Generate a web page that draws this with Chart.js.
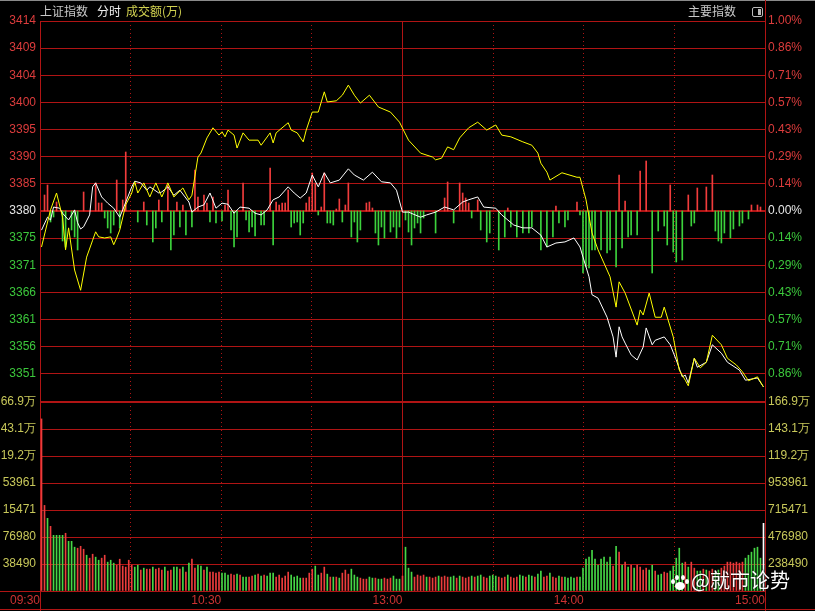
<!DOCTYPE html>
<html><head><meta charset="utf-8">
<script src="https://cdn.jsdelivr.net/npm/chart.js@4"></script>
<style>
html,body{margin:0;padding:0;background:#000;width:815px;height:611px;overflow:hidden;}
#wrap{position:relative;width:815px;height:611px;background:#000;}
canvas{position:absolute;left:0;}
.t{position:absolute;font:12px "Noto Sans CJK SC",sans-serif;white-space:nowrap;line-height:14px;}
.ln{position:absolute;background:rgb(176,20,20);}
</style></head><body>
<div id="wrap">
<div class="ln" style="left:0;top:0;width:815px;height:1px;background:#8a8a8a"></div>
<canvas id="cp" width="815" height="402" style="top:0"></canvas>
<canvas id="cv" width="815" height="220" style="top:391px"></canvas>
<div class="ln" style="left:765px;top:0;width:1px;height:21px"></div>
<div class="ln" style="left:0;top:591px;width:40px;height:1px"></div>
<div class="ln" style="left:40px;top:591px;width:1px;height:20px"></div>
<div class="ln" style="left:765px;top:591px;width:1px;height:20px"></div>
<div class="ln" style="left:0;top:609px;width:815px;height:1px"></div>
<div class="t" style="left:40px;top:4px;color:#c8c8c8">上证指数</div>
<div class="t" style="left:97px;top:4px;color:#f0f0f0">分时</div>
<div class="t" style="left:126px;top:4px;color:#d2d250">成交额(万)</div>
<div class="t" style="left:688px;top:4px;color:#c8c8c8">主要指数</div>
<div style="position:absolute;left:752px;top:7px;width:9px;height:8px;border:1px solid #bbb;border-radius:2px;"><div style="position:absolute;right:1px;top:1px;width:3px;height:6px;background:#bbb"></div></div>
<div style="position:absolute;left:671px;top:575px;width:18px;height:16px;">
 <div style="position:absolute;left:4px;top:7px;width:10px;height:8px;border-radius:50%;background:#fff"></div>
 <div style="position:absolute;left:0;top:4px;width:4px;height:5px;border-radius:50%;background:#fff"></div>
 <div style="position:absolute;left:4px;top:0;width:4px;height:5px;border-radius:50%;background:#fff"></div>
 <div style="position:absolute;left:10px;top:0;width:4px;height:5px;border-radius:50%;background:#fff"></div>
 <div style="position:absolute;left:14px;top:4px;width:4px;height:5px;border-radius:50%;background:#fff"></div>
</div>
<div style="position:absolute;left:691px;top:568px;font:20px 'Noto Sans CJK SC',sans-serif;color:#fff;line-height:24px;text-shadow:0 0 2px #000;white-space:nowrap">@就市论势</div>
</div>
<script>
// ---- data ----
const prevClose = 3380.3;
const priceMin = 3346.5, priceMax = 3414.1;
const pctMin = -1, pctMax = 1;
const volMax = 1669.43; // thousands
const priceTickLabels = ['3414','3409','3404','3400','3395','3390','3385','3380','3375','3371','3366','3361','3356','3351',''];
const pctTickLabels = ['1.00%','0.86%','0.71%','0.57%','0.43%','0.29%','0.14%','0.00%','0.14%','0.29%','0.43%','0.57%','0.71%','0.86%',''];
const volLeftLabels = ['66.9万','43.1万','19.2万','53961','15471','76980','38490',''];
const volRightLabels = ['166.9万','143.1万','119.2万','953961','715471','476980','238490',''];
const gridMinutes = [0,30,60,90,120,150,180,210,240];
const timeLabels = ['09:30','','10:30','','13:00','','14:00','','15:00'];
const solidMinutes = [120];

const yellowMin = [0,3,5,7,8,9,11,13,15,17,18,19,21,23,24,25,26,28,30,31,32,34,36,38,40,42,44,47,49,50,52,53,55,57,59,60,61,62,64,65,67,69,72,73,76,77,78,82,83,85,87,88,90,92,94,95,98,100,102,104,106,109,112,116,119,122,126,130,131,133,135,137,139,142,145,148,151,153,156,160,163,165,166,168,169,173,178,179,181,183,185,189,191,192,194,198,199,200,202,204,206,207,210,212,214,215,217,219,221,223,226,228,231,233,235,238,240];
const yellowVal = [3373.9,3380.5,3383.5,3379.2,3373.4,3377.3,3369.8,3366.2,3372.1,3375.1,3376.6,3375.7,3375.5,3375.7,3374.3,3375.5,3376.9,3381.4,3383.5,3385.5,3383.5,3385.3,3382.8,3385.3,3382.8,3385.3,3382.8,3384.4,3382.3,3383.1,3389.9,3390.6,3393.3,3395.1,3393.8,3394.4,3393.5,3394.7,3393.8,3391.5,3394.2,3392.9,3392.9,3392.0,3394.2,3392.4,3394.2,3396.0,3394.7,3394.2,3392.6,3394.7,3397.9,3397.9,3401.5,3399.7,3399.9,3400.9,3402.7,3400.9,3399.5,3400.9,3398.8,3397.9,3396.1,3392.9,3390.6,3389.9,3389.4,3389.7,3391.7,3391.2,3393.3,3395.1,3396.1,3394.7,3395.6,3393.8,3393.5,3392.6,3392.0,3390.6,3388.8,3387.2,3385.8,3387.1,3386.3,3386.3,3382.3,3376.4,3373.4,3368.6,3363.2,3367.7,3365.7,3360.0,3362.7,3361.8,3365.7,3361.4,3361.4,3363.2,3357.9,3352.0,3350.2,3349.2,3354.1,3352.4,3353.4,3358.2,3356.5,3354.1,3352.9,3351.7,3350.1,3350.8,3349.0];

const whiteMin = [0,2,3,4,6,7,9,11,12,13,14,16,17,18,20,22,24,26,27,30,31,33,35,36,39,40,42,44,46,49,50,52,54,56,58,60,62,64,66,69,71,73,75,77,79,82,84,86,88,90,92,94,96,99,102,104,107,110,113,116,118,120,122,126,128,131,134,137,140,142,145,147,151,153,157,160,163,166,168,171,174,177,179,180,182,183,185,188,190,191,192,193,194,196,198,200,201,203,204,207,209,211,213,214,215,217,218,221,223,226,228,232,234,238,240];
const whiteVal = [3376.9,3379.2,3378.7,3381.0,3380.8,3379.9,3378.7,3380.5,3378.2,3377.1,3377.5,3379.6,3384.6,3385.3,3382.8,3381.7,3380.8,3379.2,3380.5,3384.6,3385.6,3385.3,3384.0,3384.6,3383.5,3383.7,3384.6,3383.1,3384.0,3381.9,3380.1,3381.0,3381.4,3383.5,3380.8,3381.7,3381.5,3379.9,3381.0,3380.8,3379.9,3379.6,3380.5,3382.3,3382.8,3384.6,3383.5,3382.6,3383.5,3386.7,3384.6,3387.1,3385.3,3385.8,3387.8,3386.7,3385.8,3387.2,3385.5,3385.3,3384.0,3380.1,3380.1,3379.2,3379.6,3380.1,3381.0,3380.5,3381.9,3382.3,3382.8,3381.0,3380.8,3379.6,3377.8,3377.3,3377.3,3376.0,3373.9,3374.6,3374.8,3375.5,3373.9,3372.1,3368.6,3365.4,3364.8,3361.4,3357.9,3354.3,3359.7,3357.9,3356.8,3354.7,3353.8,3356.1,3359.5,3356.5,3357.3,3357.9,3356.5,3353.8,3350.8,3351.1,3349.7,3354.1,3352.5,3353.4,3356.5,3355.0,3353.4,3352.0,3350.2,3350.6,3349.0];

const flowMin = [1,2,3,4,5,7,8,10,11,12,14,18,19,20,21,22,23,24,25,26,27,28,32,34,35,37,38,39,40,42,43,44,45,46,47,48,50,51,52,54,55,56,57,58,60,61,62,63,64,65,67,68,69,70,71,73,74,76,77,78,79,80,81,82,83,84,85,86,87,88,89,90,91,92,93,94,95,96,97,98,99,100,101,102,103,104,105,106,108,109,110,111,112,113,114,116,117,118,119,121,122,123,124,125,126,127,131,134,135,137,139,140,141,142,143,145,146,148,149,152,154,155,156,158,160,162,163,166,168,170,171,172,174,175,178,179,180,181,182,183,184,186,188,189,191,192,193,194,195,196,198,199,201,203,205,207,208,209,210,211,213,215,216,217,218,221,223,224,225,226,227,229,230,232,233,235,236,238,239];
const flowVal = [16,26,-11,-6,9,-30,-36,-19,-26,-39,19,28,8,8,-7,-17,-22,-14,31,-17,11,59,-11,9,-14,-31,-17,11,-11,26,-39,-24,9,-16,6,-24,-16,41,14,16,8,-11,14,-12,-10,6,21,-19,-36,-26,28,-9,-21,-16,-25,-14,-14,43,-34,9,6,8,8,21,-16,-12,-11,-24,-12,8,14,38,28,-4,4,38,-12,-12,-14,2,12,-11,6,28,-26,-11,-31,-19,8,9,3,-22,-34,-16,-27,-21,-16,-27,-16,-9,-21,-34,-17,-12,-22,-7,-22,13,29,-12,28,18,13,8,-7,11,-19,-31,-22,-39,-26,3,-16,-26,-22,-22,-16,-39,-36,-26,5,-12,-16,-9,9,-4,-62,-56,-57,-39,-39,-39,-42,-39,-56,36,-37,10,-26,-24,-24,40,50,-62,-20,-15,-34,26,-41,-51,-49,16,-15,-12,23,24,36,-20,-30,-32,-22,-27,-18,-15,-12,-8,6,6,4];

const volK = [1520,756,642,571,492,492,492,492,510,439,
 439,387,378,395,369,316,290,325,299,272,
 290,316,255,272,246,228,281,220,211,272,
 228,211,228,185,202,193,193,211,193,202,
 185,211,176,185,211,211,193,211,167,246,
 281,202,228,220,185,211,167,167,158,167,
 158,158,141,149,141,149,141,123,123,123,
 132,141,149,132,141,132,158,158,123,141,
 114,132,167,141,123,132,114,114,114,158,
 193,220,141,158,211,149,123,123,123,114,
 158,185,149,193,141,123,114,105,105,123,
 114,114,105,105,114,105,114,132,105,105,
 132,387,202,167,123,141,132,141,123,123,
 114,123,132,123,132,123,123,132,114,132,
 123,114,123,132,123,132,141,123,114,132,
 141,132,123,114,123,141,123,114,123,141,
 132,123,141,132,123,149,176,123,132,158,
 123,114,132,123,123,114,123,114,123,123,
 202,281,299,360,281,228,281,299,255,299,
 220,395,343,228,255,211,228,202,228,211,
 185,202,185,228,176,141,149,167,158,176,
 220,290,378,246,255,211,255,202,176,176,
 193,185,176,193,167,185,202,220,255,255,
 246,255,246,255,290,316,343,378,387,290,
 598];
const volDir = ("rrgrggggrg"+"ggrrrgrrgg"+"rrgggrrrrr"+"rggrgrrgrr"+"rgrrggrgrg"+"rrggrgrrrr"+
 "gggrrgrggr"+"rgrgrgggrr"+"rrrggggrrr"+"rggrrgrgrg"+"rrrgggrrrg"+"grggrrrggg"+
 "rgggrrrrgr"+"rrgrrrggrg"+"rrrgrggrrg"+"ggrrrgrrrg"+"grggrggrrg"+"rrgrggggrg"+
 "gggggggggg"+"rgrgrgrgrr"+"rrggrggrrg"+"ggggrgrrgg"+"rgrrggrrrr"+"rrrrgggggg"+"w").split('');
const minutes = volK.map((_, i) => i);

// ---- styles ----
const GRID = 'rgb(176,20,20)';
const UPC = 'rgb(220,60,60)', DNC = 'rgb(60,200,60)', FLATC = '#e6e6e6';
const VOLC = 'rgb(200,200,90)';
Chart.defaults.font.family = "'Liberation Sans', Arial, sans-serif";
Chart.defaults.font.size = 12;

const evenTicks = (n, min, max) => (s) => { s.ticks = Array.from({length:n}, (_, k) => ({value: min + k * (max - min) / (n - 1)})); };
const listTicks = (arr) => (s) => { s.ticks = arr.map(v => ({value: v})); };
const fitY = (w) => (s) => { s.width = w; s.paddingTop = 0; s.paddingBottom = 0; };
const priceColor = c => c.index > 7 ? UPC : (c.index === 7 ? FLATC : DNC);
const dotColor = c => (c.index===0||c.index===4||c.index===8) ? 'rgba(0,0,0,0)' : GRID;

function xAxes(withLabels) {
  return {
    x:{type:'linear', min:-0.5, max:240.5, display:false, offset:false, grid:{offset:false}},
    xg:{type:'linear', position:'bottom', min:0, max:240, offset:false, afterBuildTicks:listTicks(gridMinutes),
        afterFit:s=>{s.height = withLabels ? 20 : 0; s.paddingLeft = 0; s.paddingRight = 0;},
        ticks: withLabels
          ? {autoSkip:false, maxRotation:0, minRotation:0, align:'end', padding:2, color:'rgb(205,50,50)', callback:(v, i) => timeLabels[i]}
          : {display:false, autoSkip:false},
        grid:{offset:false, drawTicks:false, color:dotColor},
        border:{display:false, dash:[1,3]}},
    xs:{type:'linear', position:'bottom', min:0, max:240, offset:false, afterBuildTicks:listTicks(solidMinutes),
        afterFit:s=>{s.height=0; s.paddingLeft = 0; s.paddingRight = 0;}, ticks:{display:false, autoSkip:false},
        grid:{offset:false, drawTicks:false, color:GRID}, border:{display:false}}
  };
}

new Chart(document.getElementById('cp'), {
  type: 'line',
  data: { datasets: [
    { type:'line', data: yellowMin.map((m, i) => ({x:m, y:yellowVal[i]})), borderColor:'#ffff00', borderWidth:1, pointRadius:0, tension:0, xAxisID:'x', yAxisID:'yL', order:1 },
    { type:'line', data: whiteMin.map((m, i) => ({x:m, y:whiteVal[i]})), borderColor:'#ffffff', borderWidth:1, pointRadius:0, tension:0, xAxisID:'x', yAxisID:'yL', order:2 },
    { type:'bar', data: flowMin.map((m, i) => ({x:m, y:flowVal[i]})), backgroundColor: flowVal.map(v => v >= 0 ? 'rgb(240,60,60)' : 'rgb(60,210,60)'), barThickness:1, xAxisID:'x', yAxisID:'ys', order:3 }
  ]},
  options: {
    responsive:false, animation:false, devicePixelRatio:1,
    layout:{padding:{top:21, bottom:1, left:0, right:0}},
    plugins:{legend:{display:false}, tooltip:{enabled:false}},
    scales: Object.assign(xAxes(false), {
      yL:{type:'linear', position:'left', min:priceMin, max:priceMax, afterBuildTicks:evenTicks(15, priceMin, priceMax),
          afterFit:fitY(40),
          ticks:{autoSkip:false, padding:4, color:priceColor, callback:(v, i) => priceTickLabels[14 - i]},
          grid:{drawTicks:false, color:GRID, lineWidth:c => c.index===7 ? 2 : 1},
          border:{display:true, color:GRID}},
      yR:{type:'linear', position:'right', min:pctMin, max:pctMax, afterBuildTicks:evenTicks(15, pctMin, pctMax),
          afterFit:fitY(50),
          ticks:{autoSkip:false, padding:3, color:priceColor, callback:(v, i) => pctTickLabels[14 - i]},
          grid:{drawTicks:false, drawOnChartArea:false},
          border:{display:true, color:GRID}},
      ys:{type:'linear', min:-190, max:190, display:false}
    })
  }
});

new Chart(document.getElementById('cv'), {
  type: 'line',
  data: { datasets: [
    { type:'bar', data: minutes.map(i => ({x:i, y:volK[i]})),
      backgroundColor: volDir.map(d => d==='r' ? 'rgb(235,60,60)' : (d==='g' ? 'rgb(70,215,70)' : '#ffffff')),
      barThickness:1, xAxisID:'x', yAxisID:'vL' }
  ]},
  options: {
    responsive:false, animation:false, devicePixelRatio:1,
    layout:{padding:{top:11, bottom:0, left:0, right:0}},
    plugins:{legend:{display:false}, tooltip:{enabled:false}},
    scales: Object.assign(xAxes(true), {
      vL:{type:'linear', position:'left', min:0, max:volMax, afterBuildTicks:evenTicks(8, 0, volMax),
          afterFit:fitY(40),
          ticks:{autoSkip:false, padding:4, color:VOLC, callback:(v, i) => volLeftLabels[7 - i]},
          grid:{drawTicks:false, color:GRID},
          border:{display:true, color:GRID}},
      vR:{type:'linear', position:'right', min:0, max:volMax, afterBuildTicks:evenTicks(8, 0, volMax),
          afterFit:fitY(50),
          ticks:{autoSkip:false, padding:3, color:VOLC, callback:(v, i) => volRightLabels[7 - i]},
          grid:{drawTicks:false, drawOnChartArea:false},
          border:{display:true, color:GRID}}
    })
  }
});
</script>
</body></html>
